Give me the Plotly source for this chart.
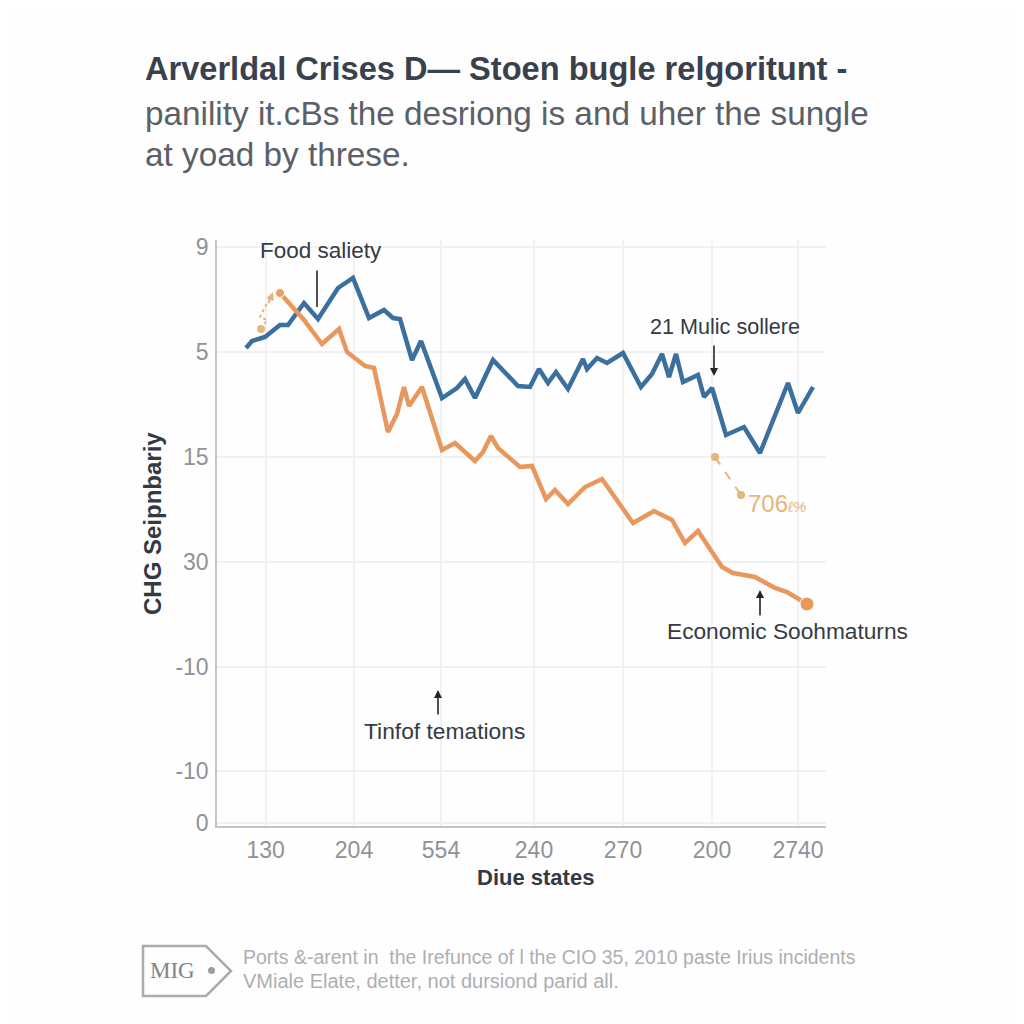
import plotly.graph_objects as go

blue_x = [29,35,48,63,71,87,101,121,136,152,167,176,183,195,204,225,240,248,258,276,301,313,322,331,339,351,366,370,380,390,406,424,435,445,452,459,466,481,487,495,509,527,543,571,581,596]
blue_y = [478,485,489,501,501,523,507,538,548,508,516,508,507,466,485,428,438,447,428,466,440,439,457,443,454,437,467,457,468,463,473,439,452,472,449,472,444,451,429,438,391,399,373,443,413,439]
orange_x = [63,87,105,122,130,148,157,171,180,187,192,205,225,238,258,266,274,281,303,315,329,338,351,368,385,416,437,455,468,481,505,516,538,558,570,590]
orange_y = [533,506,482,497,474,460,458,394,412,439,420,439,376,383,365,374,390,378,359,360,327,336,322,339,347,303,315,306,283,295,259,253,249,238,234,222]
hint_x = [44,50,43,48,55]
hint_y = [497,506,509,519,531]
note_x = [498,524]
note_y = [369,331]
x_ticks = [48.7,137,224,317,406,495,581]
x_labels = ["130","204","554","240","270","200","2740"]
y_ticks = [579,474,369,264,159,55,3]
y_labels = ["9","5","15","30","-10","-10","0"]

PAGE = 8
L, R, T, B = 217, 826, 240, 826
W, H = R - L, B - T
def px(x): return (x - L) / W
def py(y): return (B - y) / H

BLUE, ORANGE, PALE = "#3b6f9e", "#e8975d", "#e9b47c"
DARK, GREY = "#2f3742", "#8f9296"
SANS = "Liberation Sans"

fig = go.Figure()
fig.add_trace(go.Scatter(x=blue_x, y=blue_y, mode="lines", line=dict(color=BLUE, width=4.5)))
fig.add_trace(go.Scatter(x=orange_x, y=orange_y, mode="lines", line=dict(color=ORANGE, width=4.5)))
fig.add_trace(go.Scatter(x=[orange_x[0], orange_x[-1]], y=[orange_y[0], orange_y[-1]], mode="markers",
                         marker=dict(color=["#e8a066", "#ea9a58"], size=[9, 14], opacity=1)))
fig.add_trace(go.Scatter(x=hint_x, y=hint_y, mode="lines", line=dict(color=PALE, width=2, dash="dot")))
fig.add_trace(go.Scatter(x=hint_x[:1], y=hint_y[:1], mode="markers", marker=dict(color=PALE, size=8)))
fig.add_trace(go.Scatter(x=note_x, y=note_y, mode="lines+markers", line=dict(color=PALE, width=2, dash="dash"),
                         marker=dict(color=PALE, size=8)))

def text(x, y, s, size, color=DARK, anchor="left", **kw):
    fig.add_annotation(xref="paper", yref="paper", x=px(x - 2 if anchor == "left" else x), y=py(y), text=s,
                       showarrow=False, xanchor=anchor, yanchor="middle", align="left",
                       font=dict(family=kw.pop("family", SANS), size=size, color=color), **kw)

def arrow(x0, y0, x1, y1, head=2, color="#22262c"):
    fig.add_annotation(xref="paper", yref="paper", x=px(x1), y=py(y1), ax=x0 - x1, ay=y0 - y1, text="",
                       showarrow=True, arrowhead=head, arrowsize=1, arrowwidth=1.6, arrowcolor=color)

text(145, 68, "<b>Arverldal Crises D— Stoen bugle relgoritunt -</b>", 32.6, "#39414c")
text(145, 113, "panility it.cBs the desriong is and uher the sungle", 33.3, "#5a6068")
text(145, 155, "at yoad by threse.", 33.3, "#5a6068")

text(321, 250, "Food saliety", 22.5, "#343b45", "center")
text(725, 326, "21 Mulic sollere", 21.6, "#343b45", "center")
text(787, 631, "Economic Soohmaturns", 22.7, "#343b45", "center")
text(444, 731, "Tinfof temations", 22.8, "#343b45", "center")
text(748, 503, '706<span style="font-size:15px"><i>ℓ%</i></span>', 24, PALE)

arrow(317, 269, 317, 307, head=0)
arrow(714, 344, 714, 376)
arrow(760, 617, 760, 590)
arrow(438, 716, 438, 690)
arrow(268, 305, 273, 292, color=PALE)

text(152, 524, "<b>CHG Seipnbariy</b>", 24, "#333a44", "center", textangle=-90)
text(535, 877, "<b>Diue states</b>", 22, "#333a44", "center")

text(243, 957, "Ports &-arent in  the Irefunce of l the CIO 35, 2010 paste Irius incidents", 19.5, "#acafb3")
text(243, 981, "VMiale Elate, detter, not dursiond parid all.", 20, "#acafb3")
text(172, 970, "MIG", 23, "#7f8388", "center", family="Liberation Serif")

fig.add_shape(type="path", xref="paper", yref="paper",
              path=f"M {px(143)} {py(946)} L {px(206)} {py(946)} L {px(231)} {py(971)} L {px(206)} {py(996)} L {px(143)} {py(996)} Z",
              line=dict(color="#a9abae", width=2.5), fillcolor="rgba(0,0,0,0)")
fig.add_shape(type="circle", xref="paper", yref="paper", x0=px(208), x1=px(215), y0=py(967), y1=py(974),
              line=dict(width=0), fillcolor="#9a9da1")

fig.update_layout(
    width=1024 - PAGE, height=1024 - PAGE, showlegend=False, paper_bgcolor="#fefefe", plot_bgcolor="#fefefe",
    margin=dict(l=L - PAGE, r=1024 - R, t=T - PAGE, b=1024 - B, autoexpand=False),
    font=dict(family=SANS),
    xaxis=dict(range=[0, W], tickmode="array", tickvals=x_ticks, ticktext=x_labels, showgrid=True,
               gridcolor="#f0f1f3", gridwidth=1.5, zeroline=False, showline=True, linecolor="#c3c5c8", linewidth=1.5,
               ticks="outside", ticklen=3, tickcolor="rgba(0,0,0,0)", tickfont=dict(size=23, color=GREY)),
    yaxis=dict(range=[0, H], tickmode="array", tickvals=y_ticks, ticktext=y_labels, showgrid=True,
               gridcolor="#f0f1f3", gridwidth=1.5, zeroline=False, showline=True, linecolor="#c3c5c8", linewidth=1.5,
               ticks="outside", ticklen=2, tickcolor="rgba(0,0,0,0)", tickfont=dict(size=23, color=GREY)),
)
fig.write_html("out.html")
